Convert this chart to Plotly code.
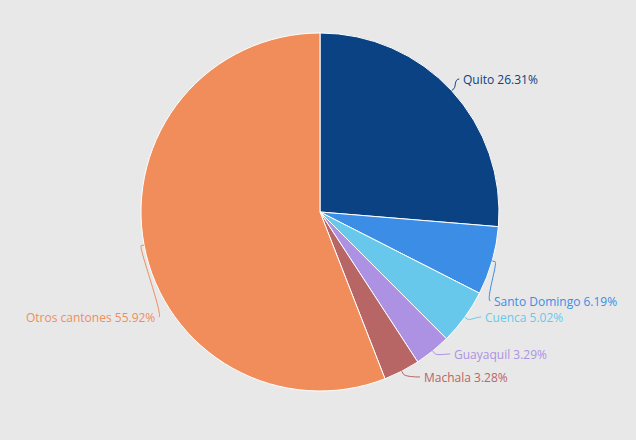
import math
import plotly.graph_objects as go

# datos
cantones = ["Quito", "Santo Domingo", "Cuenca", "Guayaquil", "Machala", "Otros cantones"]
porcentajes = [26.31, 6.19, 5.02, 3.29, 3.28, 55.92]
colores = ["#0b4283", "#3b8de6", "#68c8ec", "#ad92e4", "#b86565", "#f08d5a"]

# layout del pie (pixeles)
W, H = 636, 440
CX, CY, R = 320, 212, 179
DIST = 15
# altura de cada etiqueta despues de repartirlas (como hace highcharts)
label_y = [79, 301, 317, 354, 377, 317]


def to_paper(px, py):
    return px / W, 1 - py / H


fig = go.Figure(go.Pie(
    labels=cantones,
    values=porcentajes,
    marker=dict(colors=colores, line=dict(color="white", width=1)),
    sort=False,
    direction="clockwise",
    rotation=0,
    textinfo="none",
    hoverinfo="label+value",
    domain=dict(x=[(CX - R) / W, (CX + R) / W], y=[1 - (CY + R) / H, 1 - (CY - R) / H]),
    showlegend=False,
))

total = sum(porcentajes)
acum = 0
annotations = []
shapes = []
for nombre, val, col, ly in zip(cantones, porcentajes, colores, label_y):
    ang = (acum + val / 2) / total * 2 * math.pi
    acum += val
    sx, sy = math.sin(ang), -math.cos(ang)
    derecha = sx >= 0
    dy = ly - CY
    lx = CX + (1 if derecha else -1) * math.sqrt(max((R + DIST) ** 2 - dy ** 2, 0))
    # conector
    tx, ty = CX + sx * R, CY + sy * R
    bx, by = CX + sx * (R + 3), CY + sy * (R + 3)
    px = lx - 2 if derecha else lx + 2
    c1x = px - 5 if derecha else px + 5
    p = [to_paper(px, ly), to_paper(c1x, ly), to_paper(2 * bx - tx, 2 * by - ty),
         to_paper(bx, by), to_paper(tx, ty)]
    path = "M{},{} C{},{} {},{} {},{} L{},{}".format(
        p[0][0], p[0][1], p[1][0], p[1][1], p[2][0], p[2][1], p[3][0], p[3][1], p[4][0], p[4][1])
    shapes.append(dict(type="path", path=path, xref="paper", yref="paper",
                       line=dict(color=col, width=1)))
    ax, ay = to_paper(lx, ly)
    annotations.append(dict(
        x=ax, y=ay, xref="paper", yref="paper", showarrow=False,
        text=f"{nombre} {val:.2f}%", xanchor="left" if derecha else "right", yanchor="middle",
        font=dict(color=col, size=12, family="Open Sans"),
    ))

fig.update_layout(
    width=W, height=H,
    margin=dict(l=0, r=0, t=0, b=0),
    paper_bgcolor="#e8e8e8",
    plot_bgcolor="#e8e8e8",
    annotations=annotations,
    shapes=shapes,
)

fig.write_html("out.html", config={"displayModeBar": False},
               post_script="document.body.style.margin='0';document.body.style.background='#e8e8e8';")
